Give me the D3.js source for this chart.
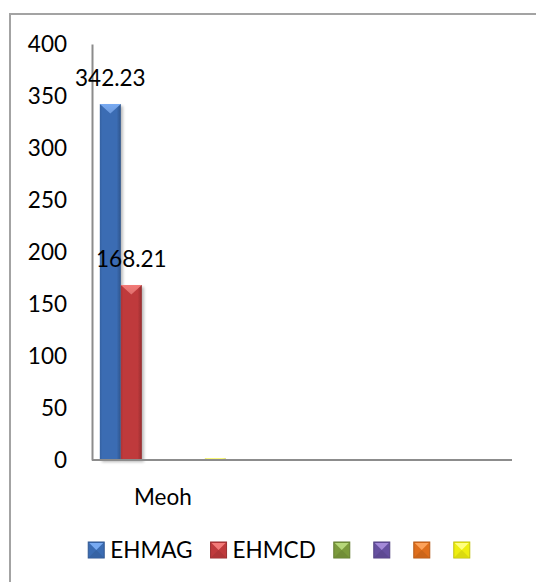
<!DOCTYPE html>
<html>
<head>
<meta charset="utf-8">
<script src="https://cdn.jsdelivr.net/npm/d3@7"></script>
<style>
  html, body { margin: 0; padding: 0; background: #fff; }
  svg { display: block; }
  text { font-family: Lato, "Liberation Sans", Arial, sans-serif; fill: #000; }
</style>
</head>
<body>
<svg id="chart" width="536" height="582"></svg>
<script>
// ---- data ----
const categories = ["Meoh", "", ""];
const seriesNames = ["EHMAG", "EHMCD", "", "", "", ""];
const ehmag = [342.23, null, null];
const ehmcd = [168.21, null, null];
const series3 = [0, null, null];
const series4 = [0, null, null];
const series5 = [0, null, null];
const series6 = [1.5, null, null];
const yTicks = [0, 50, 100, 150, 200, 250, 300, 350, 400];
const labelledSeries = [0, 1];

const seriesValues = [ehmag, ehmcd, series3, series4, series5, series6];

// ---- styling ----
const FONT = "Lato, 'Liberation Sans', Arial, sans-serif";
const FS = "22.5px";
const palette = ["#3b6cb3", "#bf3a3c", "#7b9a3c", "#6650a0", "#de6e1c", "#eeee10"];
const highlight = ["#78aaf2", "#f37a78", "#b6d77a", "#a48ad8", "#fca25a", "#ffff80"];

const svg = d3.select("#chart");
const defs = svg.append("defs");

defs.append("filter").attr("id", "shadow")
  .attr("x", "-50%").attr("y", "-10%").attr("width", "200%").attr("height", "130%")
  .append("feGaussianBlur").attr("stdDeviation", 1.8);

palette.forEach((c, i) => {
  const dark = d3.color(c).darker(0.7).formatHex();
  const g = defs.append("linearGradient").attr("id", "body" + i)
    .attr("x1", 0).attr("x2", 1).attr("y1", 0).attr("y2", 0);
  g.append("stop").attr("offset", 0).attr("stop-color", d3.color(c).darker(0.3).formatHex());
  g.append("stop").attr("offset", 0.12).attr("stop-color", c);
  g.append("stop").attr("offset", 0.8).attr("stop-color", c);
  g.append("stop").attr("offset", 1).attr("stop-color", dark);
  const t = defs.append("linearGradient").attr("id", "top" + i)
    .attr("x1", 0).attr("x2", 0).attr("y1", 0).attr("y2", 1);
  t.append("stop").attr("offset", 0).attr("stop-color", highlight[i]);
  t.append("stop").attr("offset", 1).attr("stop-color", d3.color(highlight[i]).darker(0.25).formatHex());
});

// chart frame
svg.append("rect")
  .attr("x", 10).attr("y", 14).attr("width", 560).attr("height", 620)
  .attr("fill", "none").attr("stroke", "#a3a3a3").attr("stroke-width", 2);

// ---- scales ----
const y = d3.scaleLinear().domain([0, 400]).range([460, 44]);
const x0 = d3.scaleBand().domain(d3.range(categories.length)).range([93, 512]);
const x1 = d3.scaleBand().domain(d3.range(seriesValues.length))
  .range([0, x0.bandwidth()]).paddingOuter(0.325);

// bevelled column
function bevelBar(g, i, bx, by, bw, bh) {
  if (bh <= 0) return;
  if (bh > 4) {
    g.append("rect").attr("x", bx + 2).attr("y", by + 2).attr("width", bw).attr("height", bh)
      .attr("fill", "#000").attr("opacity", 0.28).attr("filter", "url(#shadow)");
  }
  g.append("rect").attr("x", bx).attr("y", by).attr("width", bw).attr("height", bh)
    .attr("fill", `url(#body${i})`);
  const d = Math.min(bw * 0.45, bh);
  g.append("polygon")
    .attr("points", [[bx, by], [bx + bw, by], [bx + bw / 2, by + d]].map(p => p.join(",")).join(" "))
    .attr("fill", `url(#top${i})`);
}

// ---- axes ----
const yAxis = svg.append("g").attr("transform", "translate(92,0)")
  .call(d3.axisLeft(y).tickValues(yTicks).tickSize(0).tickSizeOuter(0).tickPadding(25));
yAxis.select(".domain").attr("stroke", "#8c8c8c").attr("stroke-width", 2);
yAxis.selectAll("text").style("font-size", FS).style("font-family", FONT).attr("fill", "#000");

// ---- bars ----
const barsG = svg.append("g");
seriesValues.forEach((vals, si) => {
  vals.forEach((v, ci) => {
    if (v == null) return;
    const bx = x0(ci) + x1(si);
    bevelBar(barsG, si, bx, y(v), x1.bandwidth(), y(0) - y(v));
  });
});

const xAxis = svg.append("g").attr("transform", "translate(0,460)")
  .call(d3.axisBottom(x0).tickFormat(i => categories[i]).tickSize(0).tickSizeOuter(0).tickPadding(29));
xAxis.select(".domain").attr("stroke", "#8c8c8c").attr("stroke-width", 2)
  .attr("d", "M92,0H512");
xAxis.selectAll("text").style("font-size", FS).style("font-family", FONT).attr("fill", "#000");

// ---- value labels ----
labelledSeries.forEach(si => {
  seriesValues[si].forEach((v, ci) => {
    if (v == null) return;
    svg.append("text")
      .attr("x", x0(ci) + x1(si) + x1.bandwidth() / 2)
      .attr("y", y(v) - 18)
      .attr("text-anchor", "middle")
      .style("font-size", FS)
      .text(d3.format(".2f")(v));
  });
});

// ---- legend ----
const legend = svg.append("g");
const items = seriesNames.map((name, i) => {
  const g = legend.append("g");
  bevelMarker(g, i, 0, 542, 16, 16);
  const t = g.append("text").attr("x", 22).attr("y", 558).style("font-size", FS).text(name);
  return { g, w: 22 + (name ? t.node().getComputedTextLength() : 0) };
});
const gap = 18;
const total = d3.sum(items, d => d.w) + gap * (items.length - 1) - 6;
let cx = 279 - total / 2;
items.forEach(it => {
  it.g.attr("transform", `translate(${cx},0)`);
  cx += it.w + gap;
});

function bevelMarker(g, i, mx, my, w, h) {
  const c = palette[i];
  g.append("rect").attr("x", mx).attr("y", my).attr("width", w).attr("height", h)
    .attr("fill", c).attr("stroke", d3.color(c).darker(0.6).formatHex()).attr("stroke-width", 1);
  g.append("polygon")
    .attr("points", [[mx + 1, my + 1], [mx + w - 1, my + 1], [mx + w / 2, my + h * 0.5]].map(p => p.join(",")).join(" "))
    .attr("fill", highlight[i]);
  g.append("polygon")
    .attr("points", [[mx + 1, my + h - 1], [mx + w - 1, my + h - 1], [mx + w / 2, my + h * 0.5]].map(p => p.join(",")).join(" "))
    .attr("fill", d3.color(c).darker(0.25).formatHex());
}
</script>
</body>
</html>
